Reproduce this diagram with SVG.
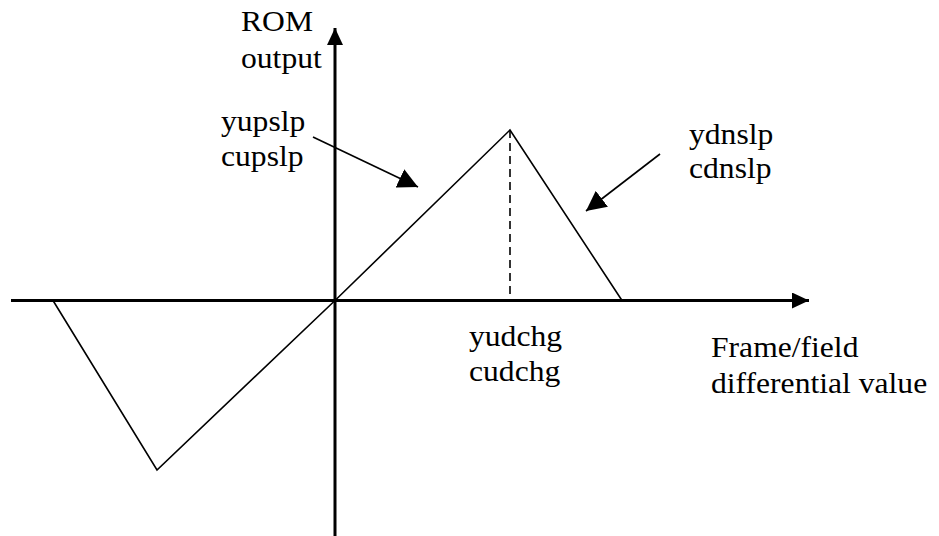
<svg xmlns="http://www.w3.org/2000/svg" width="939" height="536" viewBox="0 0 939 536">
<style>
.t{font-family:"Liberation Serif","Times New Roman",serif;font-size:29px;fill:#000}
.axis{stroke:#000;stroke-width:3;fill:none}
.curve{stroke:#000;stroke-width:1.6;fill:none;stroke-linejoin:miter}
.ptr{stroke:#000;stroke-width:1.6;fill:none}
.dash{stroke:#000;stroke-width:1.6;stroke-dasharray:8 5;fill:none}
</style>
<defs>
<marker id="ah" markerUnits="userSpaceOnUse" markerWidth="17" markerHeight="16" refX="17" refY="8" orient="auto" viewBox="0 0 17 16">
<path d="M0,0 L17,8 L0,16 z" fill="#000"/>
</marker>
<marker id="ph" markerUnits="userSpaceOnUse" markerWidth="20" markerHeight="20" refX="20" refY="10" orient="auto" viewBox="0 0 20 20">
<path d="M0,0 L20,10 L0,20 z" fill="#000"/>
</marker>
</defs>
<rect width="939" height="536" fill="#fff"/>
<g id="connectors">
<line class="axis" x1="11" y1="300.5" x2="809" y2="300.5" marker-end="url(#ah)"/>
<line class="axis" x1="335" y1="536" x2="335" y2="28" marker-end="url(#ah)"/>
<polyline class="curve" points="53,300.5 157,470 335,300.5 510,130 622,300.5"/>
<line class="dash" x1="510" y1="130" x2="510" y2="300"/>
<line class="ptr" x1="313" y1="137" x2="418" y2="187" marker-end="url(#ph)"/>
<line class="ptr" x1="660" y1="154" x2="586" y2="211" marker-end="url(#ph)"/>
</g>
<g id="y-axis-label">
<text class="t" transform="matrix(1.09 0 0 1 241 31)">ROM</text>
<text class="t" transform="matrix(1.09 0 0 1 241 68)">output</text>
</g>
<g id="upslope-label">
<text class="t" transform="matrix(1.09 0 0 1 221 131)">yupslp</text>
<text class="t" transform="matrix(1.09 0 0 1 221 166)">cupslp</text>
</g>
<g id="downslope-label">
<text class="t" transform="matrix(1.09 0 0 1 689 144)">ydnslp</text>
<text class="t" transform="matrix(1.09 0 0 1 689 178)">cdnslp</text>
</g>
<g id="change-label">
<text class="t" transform="matrix(1.09 0 0 1 469 346)">yudchg</text>
<text class="t" transform="matrix(1.09 0 0 1 469 381)">cudchg</text>
</g>
<g id="x-axis-label">
<text class="t" transform="matrix(1.09 0 0 1 711 357)">Frame/field</text>
<text class="t" transform="matrix(1.09 0 0 1 711 393)">differential value</text>
</g>
</svg>
